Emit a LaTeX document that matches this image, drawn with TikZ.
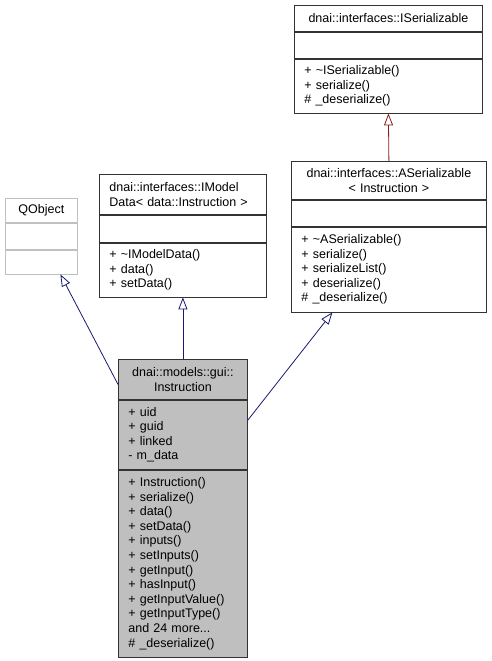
\documentclass[tikz,border=0pt]{standalone}
\usepackage{fontspec}
\setmainfont{Liberation Sans}
\usepackage{xcolor}
\usetikzlibrary{arrows.meta,positioning}

\definecolor{edgeblue}{HTML}{191970}
\definecolor{edgered}{HTML}{8B1A1A}
\definecolor{boxgray}{HTML}{BFBFBF}
\definecolor{qgray}{HTML}{C0C0C0}
\newcommand{\umlfont}{\fontsize{12.5}{14.6}\selectfont}

\begin{document}
\begin{tikzpicture}[
  x=1pt, y=-1pt,
  node distance=0pt,
  sect/.style={draw=black!80, line width=0.8pt, inner xsep=10pt, inner ysep=0pt, font=\umlfont, align=left},
  clsname/.style={sect, align=center},
  cur/.style={fill=boxgray},
  ext/.style={draw=qgray},
  inherit/.style={-{Triangle[open, length=12pt, width=9pt]}, draw=edgeblue, line width=0.8pt}
]
\useasboundingbox (0,0) rectangle (491,661);

% dnai::interfaces::ISerializable
\node[clsname, text width=168pt, minimum height=26pt, anchor=north west] (iser) at (294,5) {dnai::interfaces::ISerializable};
\node[sect, text width=168pt, minimum height=26pt, below=of iser] (iser-a) {};
\node[sect, text width=168pt, minimum height=54pt, below=of iser-a] (iser-m) {+ \textasciitilde ISerializable()\\+ serialize()\\\# \_deserialize()};

% dnai::interfaces::ASerializable< Instruction >
\node[clsname, text width=175pt, minimum height=38pt, anchor=north west] (aser) at (291,161) {dnai::interfaces::ASerializable\\< Instruction >};
\node[sect, text width=175pt, minimum height=26pt, below=of aser] (aser-a) {};
\node[sect, text width=175pt, minimum height=85pt, below=of aser-a] (aser-m) {+ \textasciitilde ASerializable()\\+ serialize()\\+ serializeList()\\+ deserialize()\\\# \_deserialize()};

% dnai::interfaces::IModelData< data::Instruction >
\node[sect, text width=147pt, minimum height=40pt, anchor=north west] (imd) at (99,174) {dnai::interfaces::IModel\\Data< data::Instruction >};
\node[sect, text width=147pt, minimum height=27pt, below=of imd] (imd-a) {};
\node[sect, text width=147pt, minimum height=54pt, below=of imd-a] (imd-m) {+ \textasciitilde IModelData()\\+ data()\\+ setData()};

% QObject
\node[clsname, ext, text width=52pt, minimum height=24pt, anchor=north west] (qobj) at (5,198) {QObject};
\node[sect, ext, text width=52pt, minimum height=26pt, below=of qobj] (qobj-a) {};
\node[sect, ext, text width=52pt, minimum height=24pt, below=of qobj-a] (qobj-m) {};

% dnai::models::gui::Instruction
\node[clsname, cur, text width=109pt, minimum height=40pt, anchor=north west] (inst) at (118,359) {dnai::models::gui::\\Instruction};
\node[sect, cur, text width=109pt, minimum height=69pt, below=of inst] (inst-a) {+ uid\\+ guid\\+ linked\\- m\_data};
\node[sect, cur, text width=109pt, minimum height=187pt, below=of inst-a] (inst-m) {+ Instruction()\\+ serialize()\\+ data()\\+ setData()\\+ inputs()\\+ setInputs()\\+ getInput()\\+ hasInput()\\+ getInputValue()\\+ getInputType()\\and 24 more...\\\# \_deserialize()};

% inheritance
\draw[inherit] ([yshift=-5pt]inst.west) -- ([xshift=19pt]qobj-m.south);
\draw[inherit] (inst.north) -- (imd-m.south);
\draw[inherit] ([yshift=14.5pt]inst-a.east) -- ([xshift=-56.5pt]aser-m.south);
\draw[inherit, draw=edgered] (aser.north) -- (iser-m.south);
\end{tikzpicture}
\end{document}
